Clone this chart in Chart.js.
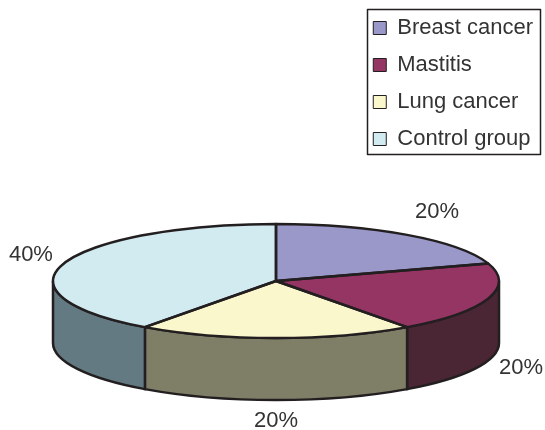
<!DOCTYPE html>
<html>
<head>
<meta charset="utf-8">
<style>
    html, body { margin: 0; padding: 0; background: #ffffff; }
    canvas { display: block; }
</style>
<script src="https://cdn.jsdelivr.net/npm/chart.js@4/dist/chart.umd.min.js"></script>
</head>
<body>
<canvas id="chart-pie-canvas" width="545" height="430"></canvas>
<script>
const labelsGroup = ['Breast cancer', 'Mastitis', 'Lung cancer', 'Control group'];
const dataGroup = [20, 20, 20, 40];
const colorsTop = ['#9a97c9', '#953563', '#fbf7cd', '#d2ebf1'];
const colorsSide = ['#4d4c65', '#4a2534', '#7f7f68', '#637a82'];

// Where the squashed pie sits on the page
const PIE = { cx: 276, cy: 281, rx: 223, ry: 57, depth: 62 };
const INK = '#231f20';
// Nudge of each percent label from the rim of its slice
const labelNudge = [[30, -23], [33, 7], [0, 21], [-33, -8]];

// Side walls, only the front half of the rim (canvas angles 0..PI)
function drawWalls(ctx, arcs) {
    arcs.forEach((arc, i) => {
        const a = Math.max(arc.startAngle, 0);
        const b = Math.min(arc.endAngle, Math.PI);
        if (a >= b) return;
        ctx.beginPath();
        ctx.ellipse(PIE.cx, PIE.cy, PIE.rx, PIE.ry, 0, a, b);
        ctx.ellipse(PIE.cx, PIE.cy + PIE.depth, PIE.rx, PIE.ry, 0, b, a, true);
        ctx.closePath();
        ctx.fillStyle = colorsSide[i];
        ctx.fill();
        ctx.lineWidth = 2.5;
        ctx.strokeStyle = INK;
        ctx.stroke();
    });
}

const pie3d = {
    id: 'pie3d',
    beforeDatasetsDraw(chart) {
        const ctx = chart.ctx;
        const arcs = chart.getDatasetMeta(0).data;
        drawWalls(ctx, arcs);
        // The library draws the slices through this transform
        const r = arcs[0].outerRadius;
        ctx.save();
        ctx.translate(PIE.cx, PIE.cy);
        ctx.scale(PIE.rx / r, PIE.ry / r);
        ctx.translate(-arcs[0].x, -arcs[0].y);
    },
    afterDatasetsDraw(chart) {
        const ctx = chart.ctx;
        ctx.restore();
        const arcs = chart.getDatasetMeta(0).data;

        // Slice outlines, done here so the line width is not squashed
        ctx.lineWidth = 2.5;
        ctx.strokeStyle = INK;
        ctx.lineJoin = 'round';
        arcs.forEach(arc => {
            ctx.beginPath();
            ctx.moveTo(PIE.cx, PIE.cy);
            ctx.ellipse(PIE.cx, PIE.cy, PIE.rx, PIE.ry, 0, arc.startAngle, arc.endAngle);
            ctx.closePath();
            ctx.stroke();
        });

        // Percent labels
        const total = dataGroup.reduce((s, v) => s + v, 0);
        ctx.font = '22px "Liberation Sans", Arial, sans-serif';
        ctx.fillStyle = '#333333';
        ctx.textAlign = 'center';
        ctx.textBaseline = 'middle';
        arcs.forEach((arc, i) => {
            const mid = (arc.startAngle + arc.endAngle) / 2;
            let x = PIE.cx + PIE.rx * Math.cos(mid);
            let y = PIE.cy + PIE.ry * Math.sin(mid);
            if (Math.sin(mid) > 0) y += PIE.depth;
            ctx.fillText(Math.round(dataGroup[i] / total * 100) + '%', x + labelNudge[i][0], y + labelNudge[i][1]);
        });
    },
    afterDraw(chart) {
        // Frame round the legend
        const ctx = chart.ctx;
        ctx.lineWidth = 1.5;
        ctx.strokeStyle = INK;
        ctx.strokeRect(367.5, 9.5, 173, 145);
    }
};

new Chart(document.getElementById('chart-pie-canvas').getContext('2d'), {
    type: 'pie',
    data: {
        labels: labelsGroup,
        datasets: [{
            data: dataGroup,
            backgroundColor: colorsTop,
            borderColor: INK,
            borderWidth: 1,
            clip: false
        }]
    },
    options: {
        responsive: false,
        animation: false,
        layout: { padding: { right: 2, top: 2 } },
        plugins: {
            tooltip: { enabled: false },
            legend: {
                position: 'right',
                align: 'start',
                labels: {
                    boxWidth: 13,
                    boxHeight: 13,
                    padding: 15,
                    color: '#333333',
                    font: { family: '"Liberation Sans", Arial, sans-serif', size: 22 }
                }
            }
        }
    },
    plugins: [pie3d]
});
</script>
</body>
</html>
